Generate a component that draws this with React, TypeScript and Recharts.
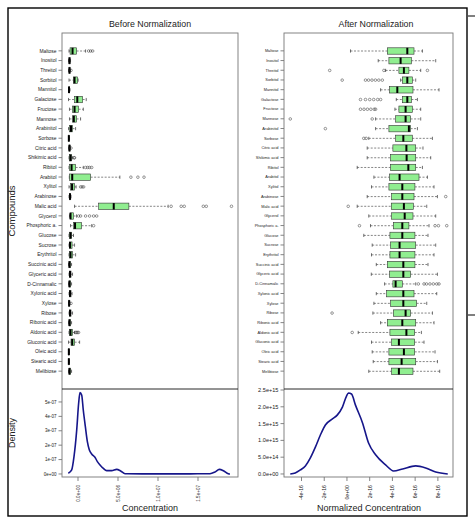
import React from 'react';
import { BarChart, Bar, XAxis, YAxis, LineChart, Line } from 'recharts';

const FONT = '"Liberation Sans", Arial, Helvetica, sans-serif';

// ---------- categories ----------
const compounds = [
  'Maltose', 'Inositol', 'Threitol', 'Sorbitol', 'Mannitol', 'Galactose', 'Fructose', 'Mannose',
  'Arabinitol', 'Sorbose', 'Citric acid', 'Shikimic acid', 'Ribitol', 'Arabitol', 'Xylitol',
  'Arabinose', 'Malic acid', 'Glycerol', 'Phosphoric a.', 'Glucose', 'Sucrose', 'Erythritol',
  'Succinic acid', 'Glyceric acid', 'D-Cinnamalic', 'Xylonic acid', 'Xylose', 'Ribose',
  'Ribonic acid', 'Aldonic acid', 'Gluconic acid', 'Oleic acid', 'Stearic acid', 'Melibiose',
];

// ---------- Before normalization (units of 1e6) ----------
const beforeMin = [0.06, 0, 0, 0.06, 0, 0, 0.12, 0.12, 0, 0, 0, 0.06, 0.06, 0.1, 0.06, 0.06, 0.75, 0.12, 0.25, 0.06, 0.06, 0.06, 0, 0.06, 0, 0.06, 0, 0.06, 0, 0.06, 0, 0, 0, 0];
const beforeQ1 = [0.19, 0.06, 0.06, 0.62, 0.04, 0.75, 0.5, 0.5, 0.12, 0.02, 0.06, 0.12, 0.12, 0.12, 0.25, 0.12, 3.75, 0.19, 0.62, 0.12, 0.12, 0.12, 0.06, 0.12, 0.06, 0.12, 0.04, 0.12, 0.06, 0.12, 0.31, 0.02, 0.02, 0.06];
const beforeMedian = [0.5, 0.12, 0.12, 0.75, 0.06, 1.09, 0.75, 0.66, 0.31, 0.04, 0.12, 0.25, 0.38, 0.46, 0.44, 0.19, 5.62, 0.25, 0.81, 0.25, 0.19, 0.25, 0.12, 0.19, 0.12, 0.19, 0.08, 0.19, 0.12, 0.25, 0.46, 0.04, 0.04, 0.12];
const beforeQ3 = [1.0, 0.19, 0.19, 1.12, 0.12, 1.75, 1.25, 1.0, 0.5, 0.08, 0.19, 0.38, 0.88, 2.75, 0.75, 0.25, 7.5, 0.62, 1.62, 0.38, 0.44, 0.5, 0.25, 0.31, 0.25, 0.31, 0.12, 0.31, 0.25, 0.5, 0.75, 0.08, 0.08, 0.25];
const beforeMax = [2.12, 0.25, 0.25, 1.19, 0.19, 2.2, 1.84, 1.5, 0.88, 0.12, 0.25, 0.5, 1.84, 6.38, 0.94, 0.31, 12.38, 1.0, 2.88, 0.62, 0.75, 0.88, 0.38, 0.5, 0.38, 0.44, 0.19, 0.5, 0.38, 0.75, 1.38, 0.12, 0.12, 0.38];
const beforeOutliers: number[][] = [
  [2.5, 2.75, 3.0], [], [0.31], [], [], [], [], [], [], [], [0.31], [0.69, 0.75],
  [2.12, 2.38, 2.62, 2.88], [7.75, 8.62, 9.38], [1.5, 1.69, 1.88], [],
  [12.75, 14.0, 14.38, 16.75, 17.12, 20.25], [1.25, 1.5, 2.12, 2.62, 3.12, 3.5], [3.12],
  [], [], [], [], [], [], [], [0.31], [], [], [0.88, 1.0, 1.12, 1.25], [], [], [], [],
];

// ---------- After normalization (units of 1e-16) ----------
const afterMin = [0.31, 2.75, 3.40, 4.72, 2.96, 4.34, 4.22, 2.52, 2.52, 1.92, 1.78, 1.78, 0.90, 2.37, 2.16, 1.78, 0.90, 1.92, 2.07, 1.48, 2.22, 2.16, 2.58, 2.14, 3.31, 2.58, 2.37, 2.28, 2.96, 0.99, 2.16, 2.22, 2.31, 1.92];
const afterQ1 = [3.55, 3.69, 4.57, 4.87, 3.75, 4.87, 4.57, 4.28, 3.69, 4.28, 4.04, 3.84, 3.84, 3.75, 3.69, 3.93, 3.90, 3.93, 4.08, 3.78, 3.84, 3.78, 3.55, 3.75, 4.04, 3.49, 3.84, 4.08, 3.55, 3.78, 3.93, 3.69, 3.69, 3.93];
const afterMedian = [5.31, 4.72, 5.01, 5.31, 4.43, 5.31, 5.16, 5.16, 5.45, 4.96, 5.23, 5.25, 5.40, 4.63, 4.87, 4.87, 5.01, 5.08, 4.87, 4.87, 4.63, 4.63, 4.96, 4.96, 4.28, 4.96, 4.96, 5.16, 4.87, 5.23, 4.57, 5.01, 4.81, 4.57];
const afterQ3 = [5.90, 5.67, 5.45, 5.75, 5.81, 5.67, 5.75, 5.60, 5.60, 5.75, 6.05, 6.05, 6.05, 6.34, 5.98, 5.90, 5.84, 5.81, 5.45, 5.98, 6.05, 5.98, 5.98, 5.60, 4.87, 5.90, 6.13, 5.60, 6.05, 5.96, 5.96, 5.96, 6.05, 5.81];
const afterMax = [6.64, 7.81, 6.49, 6.05, 8.10, 6.20, 6.49, 6.49, 6.20, 7.52, 6.69, 7.37, 6.64, 7.08, 7.66, 7.96, 7.02, 7.81, 7.22, 7.13, 7.81, 7.66, 7.13, 7.96, 6.05, 7.90, 7.02, 7.52, 7.66, 6.55, 6.78, 7.75, 7.96, 8.16];
const afterOutliers: number[][] = [
  [], [], [-1.52, 3.25, 7.08], [-0.42, 1.63, 1.9, 2.2, 2.5, 2.8, 3.11], [],
  [1.19, 1.63, 2.0, 2.35, 2.7, 2.96], [1.19, 1.5, 1.8, 2.1, 2.4, 2.52], [-4.99, 2.22],
  [-1.9], [1.48, 1.69], [], [], [], [], [], [8.69], [0.11], [], [1.10, 7.75, 8.05, 8.78],
  [], [], [], [], [], [6.28, 6.78, 7.0, 7.3, 7.6, 7.9, 8.1], [], [], [-1.31], [], [0.46],
  [], [], [], [],
];

// ---------- Density curves ----------
// before: x in 1e6, y in 1e-7
const beforeDensX = [-1.21, -0.79, -0.5, -0.16, 0.08, 0.25, 0.46, 0.66, 0.92, 1.17, 1.42, 1.71, 2.12, 2.42, 2.75, 3.17, 3.58, 4.21, 4.83, 5.33, 5.88, 8, 11, 14, 16.5, 17.12, 17.67, 18.17, 18.79, 19.0];
const beforeDensY = [0.05, 0.28, 1.2, 3.06, 4.91, 5.65, 5.49, 4.44, 3.29, 2.25, 1.67, 1.39, 1.16, 0.86, 0.63, 0.39, 0.23, 0.23, 0.32, 0.21, 0.02, 0.01, 0.01, 0.01, 0.02, 0.14, 0.32, 0.23, 0.02, 0.0];
// after: x in 1e-16, y in 1e15
const afterDensX = [-4.99, -4.55, -4.10, -3.66, -3.22, -2.78, -2.34, -1.90, -1.28, -0.84, -0.40, -0.04, 0.13, 0.40, 0.75, 1.37, 1.90, 2.52, 3.40, 4.10, 4.90, 6.05, 6.93, 7.81, 8.87];
const afterDensY = [0.0, 0.03, 0.12, 0.24, 0.48, 0.80, 1.16, 1.46, 1.64, 1.76, 1.99, 2.32, 2.41, 2.38, 2.05, 1.52, 0.92, 0.57, 0.27, 0.09, 0.15, 0.24, 0.18, 0.06, 0.0];

// ---------- Tick labels ----------
const beforeYTicks = [0, 1, 2, 3, 4, 5];
const beforeYTickLabels = ['0e+00', '1e-07', '2e-07', '3e-07', '4e-07', '5e-07'];
const beforeXTicks = [0, 5, 10, 15];
const beforeXTickLabels = ['0.0e+00', '5.0e+06', '1.0e+07', '1.5e+07'];
const afterYTicks = [0, 0.5, 1, 1.5, 2, 2.5];
const afterYTickLabels = ['0.0e+00', '5.0e+14', '1.0e+15', '1.5e+15', '2.0e+15', '2.5e+15'];
const afterXTicks = [-4, -2, 0, 2, 4, 6, 8];
const afterXTickLabels = ['-4e-16', '-2e-16', '0e+00', '2e-16', '4e-16', '6e-16', '8e-16'];

// ---------- helpers ----------
function buildRows(mins: number[], q1s: number[], meds: number[], q3s: number[], maxs: number[], outs: number[][]) {
  return compounds.map((name, i) => ({
    name, min: mins[i], q1: q1s[i], median: meds[i], q3: q3s[i], max: maxs[i], out: outs[i],
  }));
}
function paddedDomain(rows: any[]): [number, number] {
  let lo = Infinity, hi = -Infinity;
  rows.forEach((r) => {
    [r.min, r.max, ...r.out].forEach((v: number) => { lo = Math.min(lo, v); hi = Math.max(hi, v); });
  });
  const pad = (hi - lo) * 0.04;
  return [lo - pad, hi + pad];
}

const beforeRows = buildRows(beforeMin, beforeQ1, beforeMedian, beforeQ3, beforeMax, beforeOutliers);
const afterRows = buildRows(afterMin, afterQ1, afterMedian, afterQ3, afterMax, afterOutliers);
const beforeDomain = paddedDomain(beforeRows);
const afterDomain = paddedDomain(afterRows);
const beforeDens = beforeDensX.map((x, i) => ({ x, y: beforeDensY[i] }));
const afterDens = afterDensX.map((x, i) => ({ x, y: afterDensY[i] }));

function BoxShape(props: any) {
  const { x, y, width, height, payload } = props;
  const d = payload;
  if (!d || x == null || width == null) return <g />;
  const span = d.max - d.min;
  const px = (v: number) => x + ((v - d.min) / span) * width;
  const cy = y + height / 2;
  const bh = 6.4;
  const cap = 3.2;
  const stroke = '#333';
  return (
    <g>
      <line x1={px(d.min)} x2={px(d.q1)} y1={cy} y2={cy} stroke={stroke} strokeWidth={0.6} strokeDasharray="2 1.5" />
      <line x1={px(d.q3)} x2={px(d.max)} y1={cy} y2={cy} stroke={stroke} strokeWidth={0.6} strokeDasharray="2 1.5" />
      <line x1={px(d.min)} x2={px(d.min)} y1={cy - cap / 2} y2={cy + cap / 2} stroke={stroke} strokeWidth={0.7} />
      <line x1={px(d.max)} x2={px(d.max)} y1={cy - cap / 2} y2={cy + cap / 2} stroke={stroke} strokeWidth={0.7} />
      <rect x={px(d.q1)} y={cy - bh / 2} width={Math.max(px(d.q3) - px(d.q1), 0.5)} height={bh} fill="#90EE90" stroke={stroke} strokeWidth={0.6} />
      <line x1={px(d.median)} x2={px(d.median)} y1={cy - bh / 2} y2={cy + bh / 2} stroke="#000" strokeWidth={2} />
      {d.out.map((o: number, k: number) => (
        <circle key={k} cx={px(o)} cy={cy} r={1.3} fill="none" stroke={stroke} strokeWidth={0.5} />
      ))}
    </g>
  );
}

const makeCatTick = (fs: number) => (p: any) => (
  <text x={p.x} y={p.y} dy="0.35em" textAnchor="end" fontSize={fs} fill="#222" fontFamily={FONT}>
    {p.payload.value}
  </text>
);
const makeYTick = (fs: number, ticks: number[], labels: string[]) => (p: any) => (
  <text x={p.x} y={p.y} dy="0.35em" textAnchor="end" fontSize={fs} fill="#222" fontFamily={FONT}>
    {labels[ticks.indexOf(p.payload.value)]}
  </text>
);
const makeXTick = (fs: number, ticks: number[], labels: string[]) => (p: any) => (
  <text x={p.x} y={p.y} dy="0.35em" textAnchor="end" fontSize={fs} fill="#222" fontFamily={FONT}
    transform={`rotate(-90, ${p.x}, ${p.y})`}>
    {labels[ticks.indexOf(p.payload.value)]}
  </text>
);

function BoxPanel({ rows, domain, width, axisW, fs }: any) {
  return (
    <div style={{ position: 'absolute', left: 0, top: 0 }}>
      <BarChart width={width} height={376} data={rows} layout="vertical"
        margin={{ top: 46, right: 0, bottom: 0, left: 0 }} barCategoryGap={0}>
        <XAxis type="number" domain={domain} hide allowDataOverflow />
        <YAxis type="category" dataKey="name" width={axisW} axisLine={false} interval={0}
          tickSize={3.5} tickLine={{ stroke: '#333', strokeWidth: 0.6 }} tick={makeCatTick(fs)} />
        <Bar dataKey={(d: any) => [d.min, d.max]} shape={BoxShape} isAnimationActive={false} />
      </BarChart>
    </div>
  );
}

function DensPanel({ data, width, axisW, xDomain, yDomain, xTicks, xLabels, yTicks, yLabels, yfs, xfs }: any) {
  return (
    <div style={{ position: 'absolute', left: 0, top: 0 }}>
      <LineChart width={width} height={523} data={data} margin={{ top: 389, right: 0, bottom: 6, left: 0 }}>
        <XAxis type="number" dataKey="x" domain={xDomain} allowDataOverflow ticks={xTicks} interval={0}
          height={40} axisLine={false} tickSize={4} tickMargin={4}
          tickLine={{ stroke: '#333', strokeWidth: 0.6 }} tick={makeXTick(xfs, xTicks, xLabels)} />
        <YAxis type="number" domain={yDomain} allowDataOverflow ticks={yTicks} interval={0}
          width={axisW} axisLine={false} tickSize={3.5}
          tickLine={{ stroke: '#333', strokeWidth: 0.6 }} tick={makeYTick(yfs, yTicks, yLabels)} />
        <Line type="monotone" dataKey="y" stroke="#16168a" strokeWidth={1.6} dot={false} isAnimationActive={false} />
      </LineChart>
    </div>
  );
}

export default function App() {
  return (
    <div style={{ position: 'absolute', left: 0, top: 0, width: 475, height: 523, background: '#fff', fontFamily: FONT }}>
      <BoxPanel rows={beforeRows} domain={beforeDomain} width={238} axisW={62} fs={4.9} />
      <BoxPanel rows={afterRows} domain={afterDomain} width={453} axisW={284} fs={3.9} />
      <DensPanel data={beforeDens} width={238} axisW={62} xDomain={[-2, 20]} yDomain={[-0.21, 5.9]}
        xTicks={beforeXTicks} xLabels={beforeXTickLabels} yTicks={beforeYTicks} yLabels={beforeYTickLabels} yfs={4.5} xfs={4.6} />
      <DensPanel data={afterDens} width={453} axisW={284} xDomain={afterDomain} yDomain={[-0.09, 2.53]}
        xTicks={afterXTicks} xLabels={afterXTickLabels} yTicks={afterYTicks} yLabels={afterYTickLabels} yfs={5.6} xfs={5.2} />
      <svg width={475} height={523} style={{ position: 'absolute', left: 0, top: 0, pointerEvents: 'none' }}>
        <rect x={8} y={8} width={459} height={508} fill="none" stroke="#000" strokeWidth={1.4} />
        <line x1={468} x2={475} y1={16} y2={16} stroke="#000" strokeWidth={1} />
        <line x1={468} x2={475} y1={315} y2={315} stroke="#000" strokeWidth={1} />
        <rect x={62} y={33} width={176} height={444} fill="none" stroke="#777" strokeWidth={0.9} />
        <line x1={62} x2={238} y1={389} y2={389} stroke="#111" strokeWidth={0.9} />
        <rect x={284} y={33} width={169} height={444} fill="none" stroke="#777" strokeWidth={0.9} />
        <line x1={284} x2={453} y1={389} y2={389} stroke="#111" strokeWidth={0.9} />
        <text x={150} y={27} textAnchor="middle" fontSize={8.8} fill="#222" fontFamily={FONT}>Before Normalization</text>
        <text x={376} y={27} textAnchor="middle" fontSize={8.8} fill="#222" fontFamily={FONT}>After Normalization</text>
        <text x={15} y={211} textAnchor="middle" fontSize={9.5} fill="#222" fontFamily={FONT} transform="rotate(-90, 15, 211)">Compounds</text>
        <text x={15} y={433} textAnchor="middle" fontSize={9} fill="#222" fontFamily={FONT} transform="rotate(-90, 15, 433)">Density</text>
        <text x={150} y={511} textAnchor="middle" fontSize={9} fill="#222" fontFamily={FONT}>Concentration</text>
        <text x={369} y={511} textAnchor="middle" fontSize={9} fill="#222" fontFamily={FONT}>Normalized Concentration</text>
      </svg>
    </div>
  );
}
